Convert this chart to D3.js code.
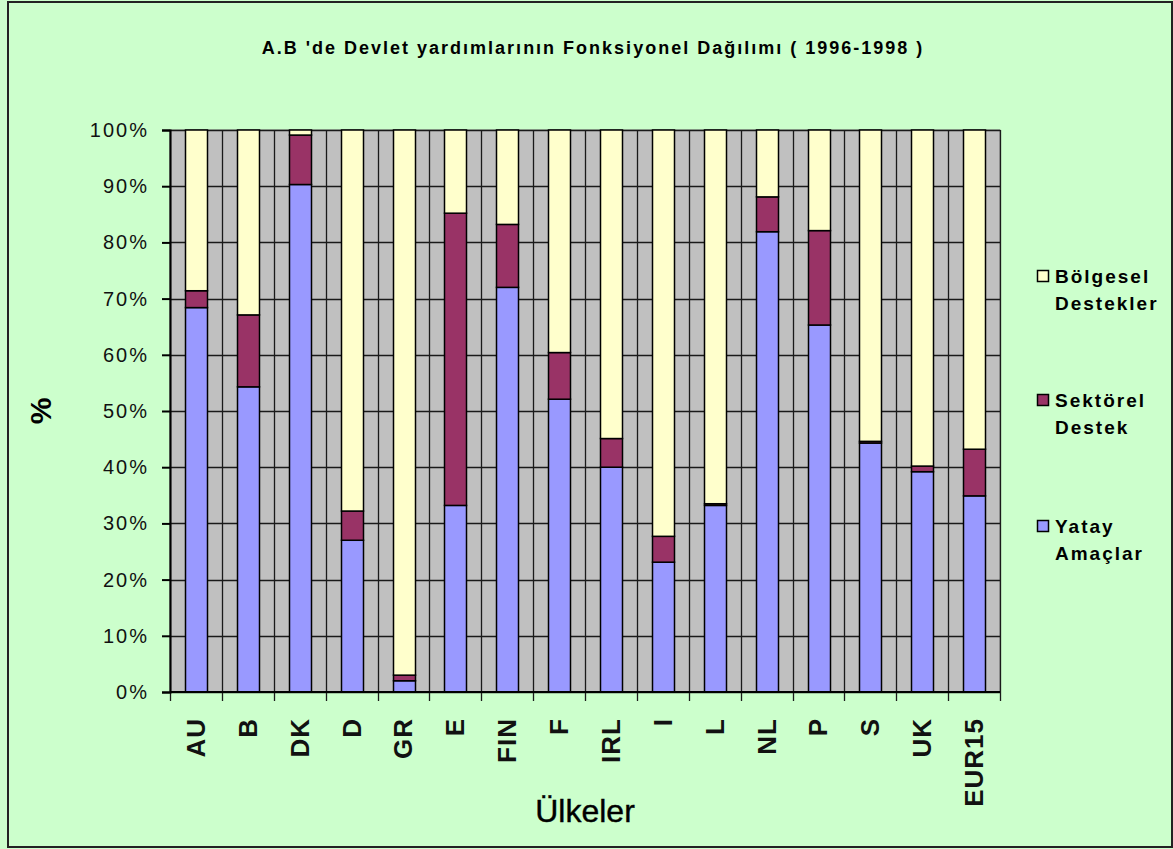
<!DOCTYPE html>
<html>
<head>
<meta charset="utf-8">
<script src="https://cdnjs.cloudflare.com/ajax/libs/d3/7.8.5/d3.min.js"></script>
<style>
  body { margin: 0; background: #CCFFCC; }
  svg { display: block; }
</style>
</head>
<body>
<div id="chart"></div>
<script>
// --- DATA ---
const countries = ["AU", "B", "DK", "D", "GR", "E", "FIN", "F", "IRL", "I", "L", "NL", "P", "S", "UK", "EUR15"];
const yatay     = [68.4, 54.3, 90.3, 27.0,  2.0, 33.2, 72.0, 52.1, 40.0, 23.1, 33.2, 81.9, 65.3, 44.3, 39.2, 34.9];
const sektorel  = [ 3.0, 12.8,  8.8,  5.2,  1.0, 52.0, 11.2,  8.3,  5.1,  4.6,  0.3,  6.2, 16.8,  0.3,  1.0,  8.3];
const bolgesel  = [28.6, 32.9,  0.9, 67.8, 97.0, 14.8, 16.8, 39.6, 54.9, 72.3, 66.5, 11.9, 17.9, 55.4, 59.8, 56.8];
const seriesNames = ["Yatay Amaçlar", "Sektörel Destek", "Bölgesel Destekler"];
const yTicks = [0, 10, 20, 30, 40, 50, 60, 70, 80, 90, 100];

const colors = { "Yatay Amaçlar": "#9999FF", "Sektörel Destek": "#993366", "Bölgesel Destekler": "#FFFFCC" };

// --- DIMENSIONS ---
const width = 1173, height = 849;
const margin = { top: 130, right: 173, bottom: 157, left: 170 };
const boundsWidth = width - margin.left - margin.right;
const boundsHeight = height - margin.top - margin.bottom;

const svg = d3.select("#chart").append("svg")
    .attr("width", width).attr("height", height)
    .style("font-family", "'Liberation Sans', Arial, sans-serif");

// outer frame
svg.append("rect")
    .attr("x", 8).attr("y", 2).attr("width", width - 9).attr("height", height - 4)
    .attr("fill", "#CCFFCC").attr("stroke", "#222").attr("stroke-width", 2);

const bounds = svg.append("g")
    .attr("transform", `translate(${margin.left},${margin.top})`);

// --- SCALES ---
const xScale = d3.scaleBand().domain(countries).range([0, boundsWidth]).paddingInner(0.58).paddingOuter(0.29);
const yScale = d3.scaleLinear().domain([0, 100]).range([boundsHeight, 0]);
const step = boundsWidth / countries.length;

// plot area
bounds.append("rect")
    .attr("width", boundsWidth).attr("height", boundsHeight)
    .attr("fill", "#C0C0C0").attr("stroke", "#808080");

// horizontal gridlines
bounds.selectAll(".hgrid").data(yTicks).enter().append("line")
    .attr("x1", 0).attr("x2", boundsWidth)
    .attr("y1", d => Math.round(yScale(d)) + 0.5).attr("y2", d => Math.round(yScale(d)) + 0.5)
    .attr("stroke", "#1a1a1a").attr("stroke-width", 1.3);

// vertical category boundaries
bounds.selectAll(".vgrid").data(d3.range(countries.length + 1)).enter().append("line")
    .attr("x1", d => Math.round(d * step) + 0.5).attr("x2", d => Math.round(d * step) + 0.5)
    .attr("y1", 0).attr("y2", boundsHeight + 9)
    .attr("stroke", "#1a1a1a").attr("stroke-width", 1.3);

// --- STACKED BARS ---
const table = countries.map((c, i) => ({
    country: c,
    "Yatay Amaçlar": yatay[i],
    "Sektörel Destek": sektorel[i],
    "Bölgesel Destekler": bolgesel[i]
}));
const stacked = d3.stack().keys(seriesNames)(table);

bounds.selectAll(".series").data(stacked).enter().append("g")
    .attr("fill", d => colors[d.key])
    .selectAll("rect").data(d => d).enter().append("rect")
    .attr("x", d => Math.round(xScale(d.data.country)) + 0.5)
    .attr("width", Math.round(xScale.bandwidth()))
    .attr("y", d => yScale(d[1]))
    .attr("height", d => yScale(d[0]) - yScale(d[1]))
    .attr("stroke", "#000").attr("stroke-width", 1.5);

// --- AXES ---
const yAxis = bounds.append("g")
    .call(d3.axisLeft(yScale).tickValues(yTicks).tickFormat(d => d + "%").tickSize(8).tickPadding(13));
yAxis.select(".domain").attr("stroke", "#000").attr("stroke-width", 2);
yAxis.selectAll(".tick line").attr("stroke", "#000").attr("stroke-width", 2);
yAxis.selectAll("text")
    .style("font-size", "20px").style("letter-spacing", "2px").attr("fill", "#111");

bounds.append("line")
    .attr("x1", 0).attr("x2", boundsWidth)
    .attr("y1", boundsHeight).attr("y2", boundsHeight)
    .attr("stroke", "#000").attr("stroke-width", 2);

// x tick labels (rotated)
bounds.selectAll(".xlabel").data(countries).enter().append("text")
    .attr("transform", d => `translate(${xScale(d) + xScale.bandwidth() / 2},${boundsHeight + 26}) rotate(-90)`)
    .attr("text-anchor", "end")
    .attr("dominant-baseline", "central")
    .style("font-size", "26px").style("font-weight", "bold").style("letter-spacing", "1px")
    .attr("fill", "#111")
    .text(d => d);

// --- TITLES ---
svg.append("text")
    .attr("x", 593).attr("y", 54)
    .attr("text-anchor", "middle")
    .style("font-size", "18px").style("font-weight", "bold").style("letter-spacing", "2px")
    .text("A.B 'de Devlet yardımlarının Fonksiyonel Dağılımı ( 1996-1998 )");

svg.append("text")
    .attr("transform", "translate(40,411) rotate(-90)")
    .attr("text-anchor", "middle").attr("dominant-baseline", "central")
    .style("font-size", "30px").style("font-weight", "bold")
    .text("%");

svg.append("text")
    .attr("x", 585).attr("y", 822)
    .attr("text-anchor", "middle")
    .style("font-size", "32px")
    .style("stroke", "#000").style("stroke-width", 0.4)
    .text("Ülkeler");

// --- LEGEND ---
const legendItems = [
    { key: "Bölgesel Destekler", lines: ["Bölgesel", "Destekler"], y: 283 },
    { key: "Sektörel Destek", lines: ["Sektörel", "Destek"], y: 407 },
    { key: "Yatay Amaçlar", lines: ["Yatay", "Amaçlar"], y: 533 }
];
const legend = svg.selectAll(".legend").data(legendItems).enter().append("g");
legend.append("rect")
    .attr("x", 1037.5).attr("y", d => d.y - 12.5)
    .attr("width", 11).attr("height", 11)
    .attr("fill", d => colors[d.key]).attr("stroke", "#000").attr("stroke-width", 1.5);
legend.selectAll("text").data(d => d.lines.map((t, i) => ({ t, y: d.y + i * 27 }))).enter().append("text")
    .attr("x", 1055).attr("y", d => d.y)
    .style("font-size", "19px").style("font-weight", "bold").style("letter-spacing", "2px")
    .text(d => d.t);
</script>
</body>
</html>
